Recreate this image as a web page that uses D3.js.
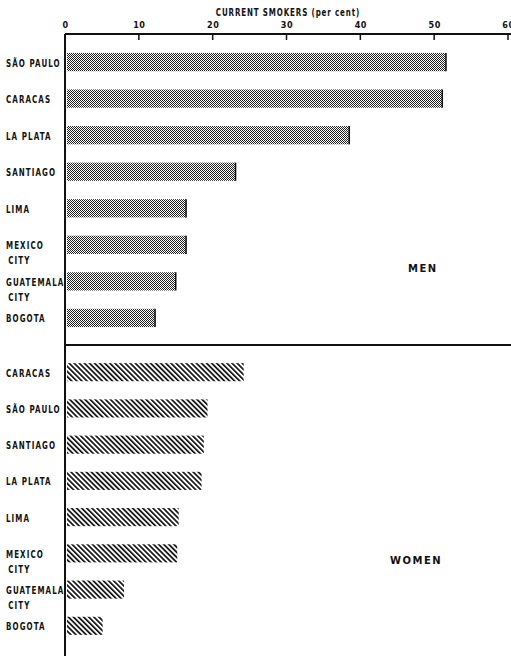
<!DOCTYPE html>
<html>
<head>
<meta charset="utf-8">
<script src="https://cdn.jsdelivr.net/npm/d3@7"></script>
<style>
  body { margin: 0; background: #fff; }
  svg { display: block; }
  .lab { font-family: "DejaVu Sans Condensed", "DejaVu Sans", sans-serif; font-weight: bold; font-size: 11px; letter-spacing: 1.5px; fill: #111; }
  .sex { font-family: "DejaVu Sans", sans-serif; font-weight: bold; font-size: 10px; letter-spacing: 1.5px; fill: #111; }
</style>
</head>
<body>
<div id="chart"></div>
<script>
let ticks = [0, 10, 20, 30, 40, 50, 60];   // popisky osy
let menCities = ["SÃO PAULO", "CARACAS", "LA PLATA", "SANTIAGO", "LIMA", "MEXICO|CITY", "GUATEMALA|CITY", "BOGOTA"];
let menValues = [51.6, 51.1, 38.5, 23.1, 16.4, 16.4, 15.0, 12.2];
let womenCities = ["CARACAS", "SÃO PAULO", "SANTIAGO", "LA PLATA", "LIMA", "MEXICO|CITY", "GUATEMALA|CITY", "BOGOTA"];
let womenValues = [24.2, 19.3, 18.8, 18.5, 15.4, 15.2, 8.0, 5.1];

let width = 511, height = 656;
let axisY = 34, splitY = 345;
let sx = 0.72;              // horizontální zúžení písma (úzké písmo)

let svg = d3.select("#chart").append("svg")
  .attr("width", width)
  .attr("height", height);

let defs = svg.append("defs");

// vzor pro muže - jemná šachovnice
let pm = defs.append("pattern")
  .attr("id", "menPat")
  .attr("patternUnits", "userSpaceOnUse")
  .attr("width", 2).attr("height", 2);
pm.append("rect").attr("width", 2).attr("height", 2).attr("fill", "#fff");
pm.append("rect").attr("width", 1).attr("height", 1).attr("fill", "#222");
pm.append("rect").attr("x", 1).attr("y", 1).attr("width", 1).attr("height", 1).attr("fill", "#222");

// vzor pro ženy - šikmé šrafy
let pw = defs.append("pattern")
  .attr("id", "womenPat")
  .attr("patternUnits", "userSpaceOnUse")
  .attr("width", 3.6).attr("height", 10)
  .attr("patternTransform", "rotate(-45)");
pw.append("rect").attr("width", 3.6).attr("height", 10).attr("fill", "#fff");
pw.append("rect").attr("width", 1.7).attr("height", 10).attr("fill", "#111");

let X = d3.scaleLinear().domain([0, 60]).range([65, 508]);

let Ymen = d3.scaleBand()
  .domain(menCities)
  .range([axisY + 1, splitY])
  .paddingInner(0.5)
  .paddingOuter(0.49);

let Ywomen = d3.scaleBand()
  .domain(womenCities)
  .range([splitY, 653])
  .paddingInner(0.5)
  .paddingOuter(0.5);

// nadpis osy
svg.append("text")
  .attr("class", "lab")
  .attr("transform", "translate(" + X(30.2) + ",16) scale(" + sx + ",1)")
  .attr("text-anchor", "middle")
  .style("letter-spacing", "1.2px")
  .text("CURRENT SMOKERS (per cent)");

// horní osa
let axis = d3.axisTop(X).tickValues(ticks).tickSize(0).tickPadding(6);
let gAxis = svg.append("g").attr("transform", "translate(0," + axisY + ")").call(axis);
gAxis.select(".domain").remove();
gAxis.selectAll("text")
  .attr("class", "lab")
  .style("font-size", "9px")
  .style("letter-spacing", "0.5px")
  .attr("fill", "#111");

svg.append("line")
  .attr("x1", X(0)).attr("x2", width)
  .attr("y1", axisY).attr("y2", axisY)
  .attr("stroke", "#111").attr("stroke-width", 2);

svg.selectAll(".tick-mark")
  .data(ticks.slice(1))
  .join("line")
  .attr("class", "tick-mark")
  .attr("x1", d => X(d)).attr("x2", d => X(d))
  .attr("y1", axisY).attr("y2", axisY + 6)
  .attr("stroke", "#111").attr("stroke-width", 1.5);

// svislá osa a dělící čára
svg.append("line")
  .attr("x1", X(0)).attr("x2", X(0))
  .attr("y1", axisY).attr("y2", height)
  .attr("stroke", "#111").attr("stroke-width", 2);

svg.append("line")
  .attr("x1", X(0)).attr("x2", width)
  .attr("y1", splitY).attr("y2", splitY)
  .attr("stroke", "#111").attr("stroke-width", 1.8);

function drawGroup(cities, values, Y, fill, border)
{
  let g = svg.append("g");
  let rows = cities.map((c, i) => ({ city: c, value: values[i] }));

  g.selectAll("rect")
    .data(rows)
    .join("rect")
    .attr("x", X(0) + 2)
    .attr("y", d => Y(d.city))
    .attr("width", d => X(d.value) - X(0) - 2)
    .attr("height", Y.bandwidth())
    .attr("fill", fill);

  if(border)
  {
    g.selectAll("line")
      .data(rows)
      .join("line")
      .attr("x1", d => X(d.value)).attr("x2", d => X(d.value))
      .attr("y1", d => Y(d.city)).attr("y2", d => Y(d.city) + Y.bandwidth())
      .attr("stroke", "#111").attr("stroke-width", 1.5);
  }

  let t = g.selectAll("text")
    .data(rows)
    .join("text")
    .attr("class", "lab")
    .attr("transform", d => "translate(6," + (Y(d.city) + Y.bandwidth() / 2 + 4.5) + ") scale(" + sx + ",1)");

  t.selectAll("tspan")
    .data(d => d.city.split("|"))
    .join("tspan")
    .attr("x", (d, i) => i === 0 ? 0 : 3)
    .attr("dy", (d, i) => i === 0 ? 0 : 15)
    .text(d => d);
}

drawGroup(menCities, menValues, Ymen, "url(#menPat)", true);
drawGroup(womenCities, womenValues, Ywomen, "url(#womenPat)", false);

svg.append("text").attr("class", "sex")
  .attr("x", 408).attr("y", 272)
  .text("MEN");

svg.append("text").attr("class", "sex")
  .attr("x", 390).attr("y", 564)
  .text("WOMEN");
</script>
</body>
</html>
